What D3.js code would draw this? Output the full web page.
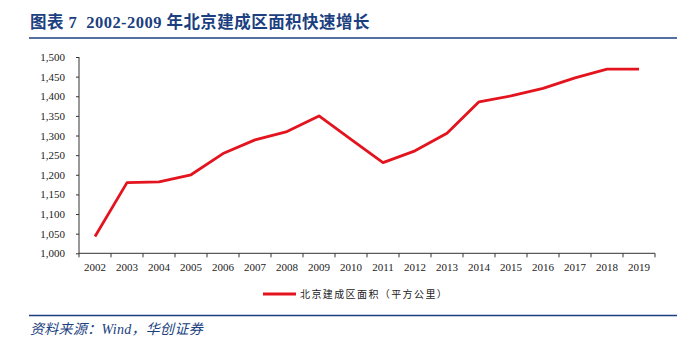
<!DOCTYPE html>
<html>
<head>
<meta charset="utf-8">
<script src="https://cdn.jsdelivr.net/npm/d3@7"></script>
<style>
  html, body { margin: 0; padding: 0; background: #fff; }
  svg { display: block; }
</style>
</head>
<body>
<svg id="chart" width="690" height="340"></svg>
<script>
const titleText = "图表 7  2002-2009 年北京建成区面积快速增长";
const sourceText = "资料来源：Wind，华创证券";
const seriesName = "北京建成区面积（平方公里）";
const years = ["2002","2003","2004","2005","2006","2007","2008","2009","2010","2011","2012","2013","2014","2015","2016","2017","2018","2019"];
const area = [1043, 1180, 1182, 1200, 1254, 1289, 1310, 1350, 1290, 1231, 1261, 1306, 1386, 1401, 1420, 1447, 1469, 1469];
const yTicks = [1000, 1050, 1100, 1150, 1200, 1250, 1300, 1350, 1400, 1450, 1500];

const svg = d3.select("#chart");
const blue = "#1b3f80";
const serif = "'Liberation Serif','Times New Roman',serif";

// Title
svg.append("text")
  .attr("x", 30).attr("y", 28)
  .attr("font-family", "'Liberation Serif','Noto Sans CJK SC',serif")
  .attr("font-weight", "bold")
  .attr("font-size", 16.5)
  .attr("letter-spacing", 0.45)
  .attr("fill", blue)
  .attr("xml:space", "preserve")
  .style("white-space", "pre")
  .text(titleText);

svg.append("line")
  .attr("x1", 29).attr("x2", 677).attr("y1", 38).attr("y2", 38)
  .attr("stroke", blue).attr("stroke-width", 1.5);

// Scales
const x = d3.scaleBand().domain(years).range([79, 655]).padding(0);
const y = d3.scaleLinear().domain([1000, 1500]).range([253.3, 57]);

// Y axis
const yAxis = d3.axisLeft(y).tickValues(yTicks).tickSize(3).tickPadding(11)
  .tickFormat(d3.format(","));
const gy = svg.append("g").attr("transform", "translate(79,0)").call(yAxis);
gy.select(".domain").attr("stroke", "#333").attr("d", `M0,${y(1000)}V${y(1500)}`);
gy.selectAll(".tick line").attr("stroke", "#333");
gy.selectAll(".tick text").attr("font-family", serif).attr("font-size", 11).attr("fill", "#222");

// X axis
const gx = svg.append("g").attr("transform", `translate(0,${y(1000)})`)
  .call(d3.axisBottom(x).tickSize(0).tickPadding(10));
gx.select(".domain").attr("stroke", "#333").attr("d", `M79,0H655`);
gx.selectAll(".tick text").attr("font-family", serif).attr("font-size", 11).attr("fill", "#222");
const bounds = years.map(d => x(d)).concat([x(years[years.length - 1]) + x.bandwidth()]);
gx.selectAll(".bound").data(bounds).enter().append("line")
  .attr("class", "bound")
  .attr("x1", d => d).attr("x2", d => d)
  .attr("y1", 0).attr("y2", 4)
  .attr("stroke", "#333");

// Line
const line = d3.line()
  .x((d, i) => x(years[i]) + x.bandwidth() / 2)
  .y(d => y(d));
svg.append("path")
  .datum(area)
  .attr("fill", "none")
  .attr("stroke", "#e3141e")
  .attr("stroke-width", 2.8)
  .attr("stroke-linejoin", "round")
  .attr("d", line);

// Legend
svg.append("line")
  .attr("x1", 263).attr("x2", 296).attr("y1", 294).attr("y2", 294)
  .attr("stroke", "#e3141e").attr("stroke-width", 2.8);
svg.append("text")
  .attr("x", 300).attr("y", 298)
  .attr("font-family", "'Noto Sans CJK SC',sans-serif")
  .attr("font-size", 10)
  .attr("letter-spacing", 1.4)
  .attr("fill", "#222")
  .text(seriesName);

// Bottom rule and source
svg.append("line")
  .attr("x1", 29).attr("x2", 677).attr("y1", 315.5).attr("y2", 315.5)
  .attr("stroke", blue).attr("stroke-width", 1.5);
svg.append("text")
  .attr("x", 30).attr("y", 334)
  .attr("font-family", "'Liberation Serif','Noto Sans CJK SC',serif")
  .attr("font-style", "italic")
  .attr("font-size", 14)
  .attr("letter-spacing", 0.3)
  .attr("fill", blue)
  .text(sourceText);
</script>
</body>
</html>
